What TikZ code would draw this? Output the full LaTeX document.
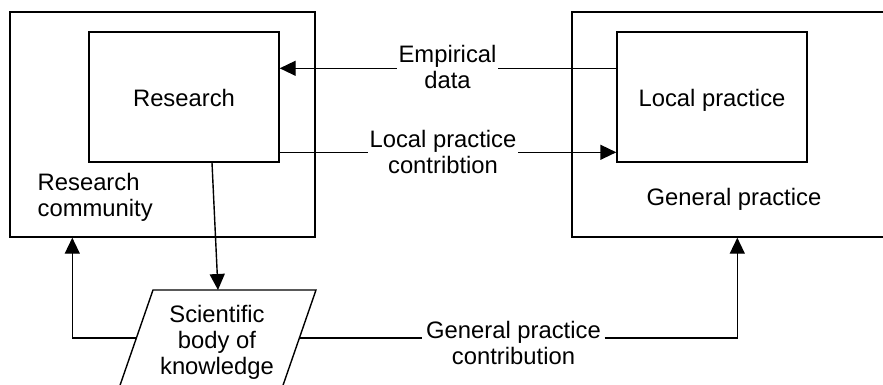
\documentclass[tikz,border=0pt]{standalone}
\usepackage{fontspec}
\setmainfont{Liberation Sans}
\usetikzlibrary{arrows.meta,calc}

\begin{document}
\begin{tikzpicture}[x=1pt,y=-1pt,
  line width=1.4pt,
  every node/.style={font=\fontsize{23.8}{26}\selectfont},
  frame/.style={draw, rectangle, inner sep=0pt},
  innerbox/.style={frame, minimum width=190pt, minimum height=130pt,
                   text height=20pt, text depth=0pt},
  lbl/.style={align=center, inner sep=1pt, anchor=north},
  arr/.style={-{Triangle[length=16pt,width=15pt]}}
]
\useasboundingbox (0,0) rectangle (883,385);

% outer frames
\node[frame, minimum width=305pt, minimum height=225pt] (rc) at (162.5,124.5) {};
\node[frame, minimum width=323pt, minimum height=225pt] (gp) at (733.5,124.5) {};

% inner boxes
\node[innerbox] (res) at (184,97) {Research};
\node[innerbox] (lp) at (712,97) {Local practice};

% frame captions
\node[anchor=north west, inner sep=0pt, align=left] (rctxt) at (37,173) {Research\\community};
\node[anchor=base, inner sep=0pt] (gptxt) at (734,205) {General practice};

% scientific body of knowledge (parallelogram)
\node[lbl] (sbk) at (217,304) {Scientific\\body of\\knowledge};
\coordinate (sbkTL) at (153,290);
\coordinate (sbkTR) at (316,290);
\coordinate (sbkBR) at (280,394);
\coordinate (sbkBL) at (117,394);
\draw (sbkTL) -- (sbkTR) -- (sbkBR) -- (sbkBL) -- cycle;
\coordinate (sbkTop) at (218,290);
\coordinate (sbkL) at (136.3,338);
\coordinate (sbkR) at (299.3,338);

% connector labels
\node[lbl] (emp) at (447.5,44) {Empirical\\data};
\node[lbl] (lpc) at (443,129) {Local practice\\contribtion};
\node[lbl, inner sep=3pt] (gpc) at (513.5,318) {General practice\\contribution};

% empirical data: local practice -> research
\coordinate (ey) at ($(lp.north west)+(0,37)$);
\draw (ey) -- (emp.east |- ey);
\draw[arr] (emp.west |- ey) -- (res.east |- ey);

% local practice contribution: research -> local practice
\coordinate (ly) at ($(res.north east)+(0,121)$);
\draw (ly) -- (lpc.west |- ly);
\draw[arr] (lpc.east |- ly) -- (lp.west |- ly);

% research -> scientific body of knowledge
\draw[arr] ($(res.south)+(28,0)$) -- (sbkTop);

% scientific body of knowledge -> research community
\draw[arr] (sbkL) -| ($(rc.south west)+(63,0)$);

% scientific body of knowledge -> general practice
\draw (sbkR) -- (gpc.west |- sbkR);
\draw[arr] (gpc.east |- sbkR) -| ($(gp.south west)+(166,0)$);

\end{tikzpicture}
\end{document}
